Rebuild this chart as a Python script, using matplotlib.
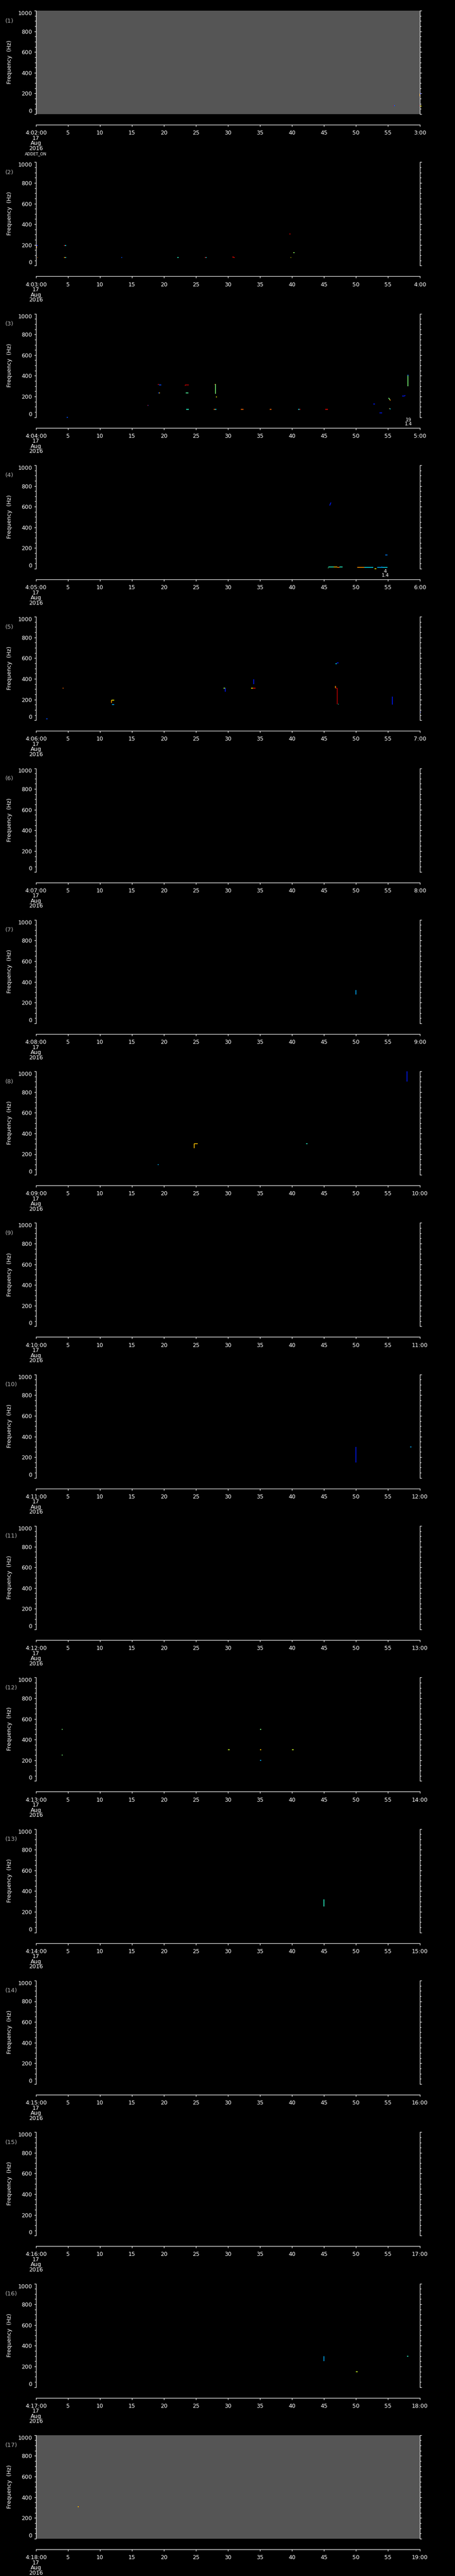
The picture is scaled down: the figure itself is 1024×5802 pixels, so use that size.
import matplotlib.pyplot as plt

# one-minute windows starting at 4:02 ... 4:18 UT, 17 Aug 2016
start_min = list(range(2, 19))
sec_ticks = [0, 5, 10, 15, 20, 25, 30, 35, 40, 45, 50, 55, 60]
freq_major = [0, 200, 400, 600, 800, 1000]
freq_minor = list(range(0, 1001, 50))
gray_panels = [1, 17]

# detected pixels: (t0 s, t1 s, f0 Hz, f1 Hz, jet level 0-1)
marks_1 = [(55.8, 56.0, 80, 80, 0.9), (55.9, 56.1, 83, 83, 0.15), (55.95, 56.05, 80, 80, 0.35),
           (60.0, 60.0, 197, 170, 0.75), (60.0, 60.2, 197, 197, 0.15),
           (59.95, 60.1, 80, 80, 0.9), (60.1, 60.3, 79, 79, 0.65)]
marks_2 = [(0.05, 0.05, 169, 194, 0.75), (0.05, 0.3, 195, 195, 0.15), (0.2, 0.25, 79, 79, 0.75),
           (4.4, 4.6, 196, 196, 0.9), (4.5, 4.7, 193, 193, 0.35), (4.4, 4.55, 79, 79, 0.75),
           (4.55, 4.7, 79, 79, 0.35), (13.3, 13.5, 79, 79, 0.2), (22.1, 22.3, 79, 79, 0.4),
           (26.4, 26.55, 79, 79, 0.9), (26.55, 26.7, 79, 79, 0.35), (30.7, 30.9, 82, 82, 0.9),
           (30.9, 31.05, 79, 79, 0.9), (39.6, 39.8, 304, 304, 0.95), (39.8, 39.85, 79, 79, 0.65),
           (40.2, 40.3, 126, 126, 0.6), (40.3, 40.45, 126, 126, 0.5)]
marks_3 = [(4.8, 5.0, 0, 0, 0.2), (17.4, 17.5, 116, 116, 0.9), (17.5, 17.6, 116, 116, 0.2),
           (19.0, 19.25, 317, 317, 0.95), (19.25, 19.6, 313, 313, 0.2),
           (19.1, 19.25, 236, 236, 0.2), (19.25, 19.4, 236, 236, 0.7),
           (23.3, 23.35, 303, 313, 0.95), (23.35, 23.9, 313, 313, 0.95),
           (23.4, 23.8, 234, 234, 0.45), (23.5, 23.9, 77, 77, 0.4),
           (27.9, 28.05, 318, 318, 0.85), (28.05, 28.05, 319, 226, 0.5),
           (28.1, 28.25, 197, 197, 0.65), (27.8, 28.0, 77, 77, 0.8), (28.0, 28.2, 77, 77, 0.35),
           (32.0, 32.4, 77, 77, 0.8), (36.5, 36.8, 77, 77, 0.8),
           (41.0, 41.15, 77, 77, 0.35), (41.15, 41.3, 77, 77, 0.9), (45.2, 45.6, 77, 77, 0.9),
           (52.7, 53.0, 129, 129, 0.15), (53.7, 54.1, 40, 40, 0.15),
           (55.1, 55.3, 186, 170, 0.5), (55.3, 55.4, 170, 161, 0.75),
           (55.2, 55.3, 83, 83, 0.75), (55.3, 55.4, 78, 78, 0.35),
           (57.2, 57.6, 203, 203, 0.15), (57.6, 57.7, 203, 212, 0.15),
           (58.15, 58.15, 409, 297, 0.5), (58.1, 58.2, 409, 400, 0.2)]
marks_4 = [(45.9, 46.1, 611, 640, 0.15), (45.6, 45.7, 7, 7, 0.5), (45.7, 46.5, 16, 16, 0.4),
           (46.5, 47.1, 16, 16, 0.7), (47.1, 47.4, 12, 12, 0.8), (47.4, 47.9, 16, 16, 0.4),
           (50.2, 51.3, 14, 14, 0.75), (51.3, 52.7, 14, 14, 0.35), (52.9, 53.2, 0, 0, 0.65),
           (53.3, 54.2, 12, 12, 0.3), (54.0, 54.1, 20, 20, 0.2), (54.2, 54.9, 11, 11, 0.35),
           (54.6, 54.9, 132, 132, 0.25)]
marks_5 = [(1.6, 1.8, 12, 12, 0.2), (4.2, 4.3, 309, 309, 0.8), (11.8, 11.8, 170, 194, 0.75),
           (11.8, 12.2, 194, 194, 0.65), (11.9, 12.2, 150, 150, 0.3),
           (29.3, 29.6, 309, 309, 0.55), (29.6, 29.6, 309, 275, 0.15),
           (33.6, 33.9, 309, 309, 0.65), (33.9, 34.3, 309, 309, 0.9), (34.0, 34.0, 396, 347, 0.15),
           (46.8, 47.0, 545, 545, 0.35), (47.0, 47.3, 555, 555, 0.15),
           (46.8, 46.8, 331, 309, 0.75), (46.8, 47.1, 309, 309, 0.95), (47.1, 47.1, 309, 155, 0.95),
           (47.2, 47.3, 155, 155, 0.4), (55.7, 55.7, 151, 227, 0.15), (60.0, 60.15, 80, 80, 0.15)]
marks_6 = []
marks_7 = [(50.0, 50.0, 280, 320, 0.3)]
marks_8 = [(19.0, 19.2, 100, 100, 0.3), (24.7, 24.7, 260, 300, 0.7), (24.7, 25.3, 300, 300, 0.7),
           (42.2, 42.4, 300, 300, 0.4), (58.0, 58.0, 900, 1000, 0.15)]
marks_9 = []
marks_10 = [(50.0, 50.0, 150, 300, 0.15), (58.5, 58.7, 300, 300, 0.3)]
marks_11 = []
marks_12 = [(4.0, 4.2, 500, 500, 0.5), (4.0, 4.2, 250, 250, 0.5), (30.0, 30.3, 300, 300, 0.6),
            (35.0, 35.2, 500, 500, 0.5), (35.0, 35.2, 300, 300, 0.7), (35.0, 35.2, 200, 200, 0.3),
            (40.0, 40.3, 300, 300, 0.6)]
marks_13 = [(45.0, 45.0, 250, 320, 0.4)]
marks_14 = []
marks_15 = []
marks_16 = [(45.0, 45.0, 250, 300, 0.3), (50.0, 50.3, 150, 150, 0.6), (58.0, 58.2, 300, 300, 0.4)]
marks_17 = [(6.55, 6.65, 310, 310, 0.65), (6.65, 6.75, 310, 310, 0.9)]
all_marks = [marks_1, marks_2, marks_3, marks_4, marks_5, marks_6, marks_7, marks_8, marks_9,
             marks_10, marks_11, marks_12, marks_13, marks_14, marks_15, marks_16, marks_17]

# small counts printed under the frame: panel -> (time s, text)
notes = {3: (58.2, ['19', '1.4']), 4: (54.6, ['4', '1.4'])}

W, H = 1024, 5802
fig = plt.figure(figsize=(W / 100, H / 100), dpi=100, facecolor='black')
jet = plt.get_cmap('jet')
x0, x1 = 81, 945
pitch = 341.3
ph = 233

for i, m in enumerate(start_min):
    top = 24 + i * pitch
    ax = fig.add_axes([x0 / W, 1 - (top + ph) / H, (x1 - x0) / W, ph / H])
    ax.set_facecolor('#555555' if (i + 1) in gray_panels else 'black')
    ax.set_xlim(0, 60)
    ax.set_ylim(0, 1000)
    ax.spines['top'].set_visible(False)
    ax.spines['bottom'].set_visible(False)
    for s in ['left', 'right']:
        ax.spines[s].set_color('white')
        ax.spines[s].set_linewidth(0.9)
    ax.set_xticks([])
    ax.set_yticks(freq_major)
    ax.set_yticks(freq_minor, minor=True)
    ax.tick_params(axis='y', which='both', direction='out', color='white', width=0.9,
                   left=True, right=True, labelleft=True, labelright=False,
                   labelcolor='white', labelsize=9, pad=3)
    ax.tick_params(axis='y', which='major', length=3.2)
    ax.tick_params(axis='y', which='minor', length=2.0)
    ylabs = ax.get_yticklabels()
    ylabs[0].set_verticalalignment('bottom')
    ylabs[-1].set_verticalalignment('top')

    for t0, t1, f0, f1, lev in all_marks[i]:
        if t1 - t0 < 0.02 and abs(f1 - f0) < 1:
            t1 = t0 + 0.1
        ax.plot([t0, t1], [f0, f1], color=jet(lev), lw=1.2, solid_capstyle='butt', clip_on=False)

    if (i + 1) in notes:
        tx, lines = notes[i + 1]
        ax.text(tx, -27, lines[0], color='white', fontsize=7.5, ha='center', va='center', clip_on=False)
        ax.text(tx, -66, lines[1], color='white', fontsize=7.5, ha='center', va='center', clip_on=False)

    # detached time axis below each frame
    tax = fig.add_axes([x0 / W, 1 - (top + 257) / H, (x1 - x0) / W, 0.00001])
    tax.set_facecolor('none')
    for s in ['top', 'left', 'right']:
        tax.spines[s].set_visible(False)
    tax.spines['bottom'].set_color('white')
    tax.spines['bottom'].set_linewidth(0.9)
    tax.set_xlim(0, 60)
    tax.set_yticks([])
    tax.set_xticks(sec_ticks)
    xl = ['4:%02d:00\n17\nAug\n2016' % m] + [str(s) for s in sec_ticks[1:-1]] + ['%d:00' % (m + 1)]
    tax.set_xticklabels(xl, linespacing=0.85)
    tax.tick_params(axis='x', direction='out', length=2.8, width=0.9, color='white',
                    labelcolor='white', labelsize=9, pad=6)

    fig.text(12 / W, 1 - (top + 23) / H, '(%d)' % (i + 1), color='#b4b4b4', fontsize=9.5,
             ha='left', va='center')
    fig.text(22 / W, 1 - (top + 116) / H, 'Frequency  (Hz)', color='white', fontsize=9,
             rotation=90, ha='center', va='center')

fig.text(80 / W, 1 - 347 / H, 'ADDET_ON', color='white', fontsize=6.5, ha='center', va='center')

fig.savefig('out.png', dpi=100, facecolor='black')
